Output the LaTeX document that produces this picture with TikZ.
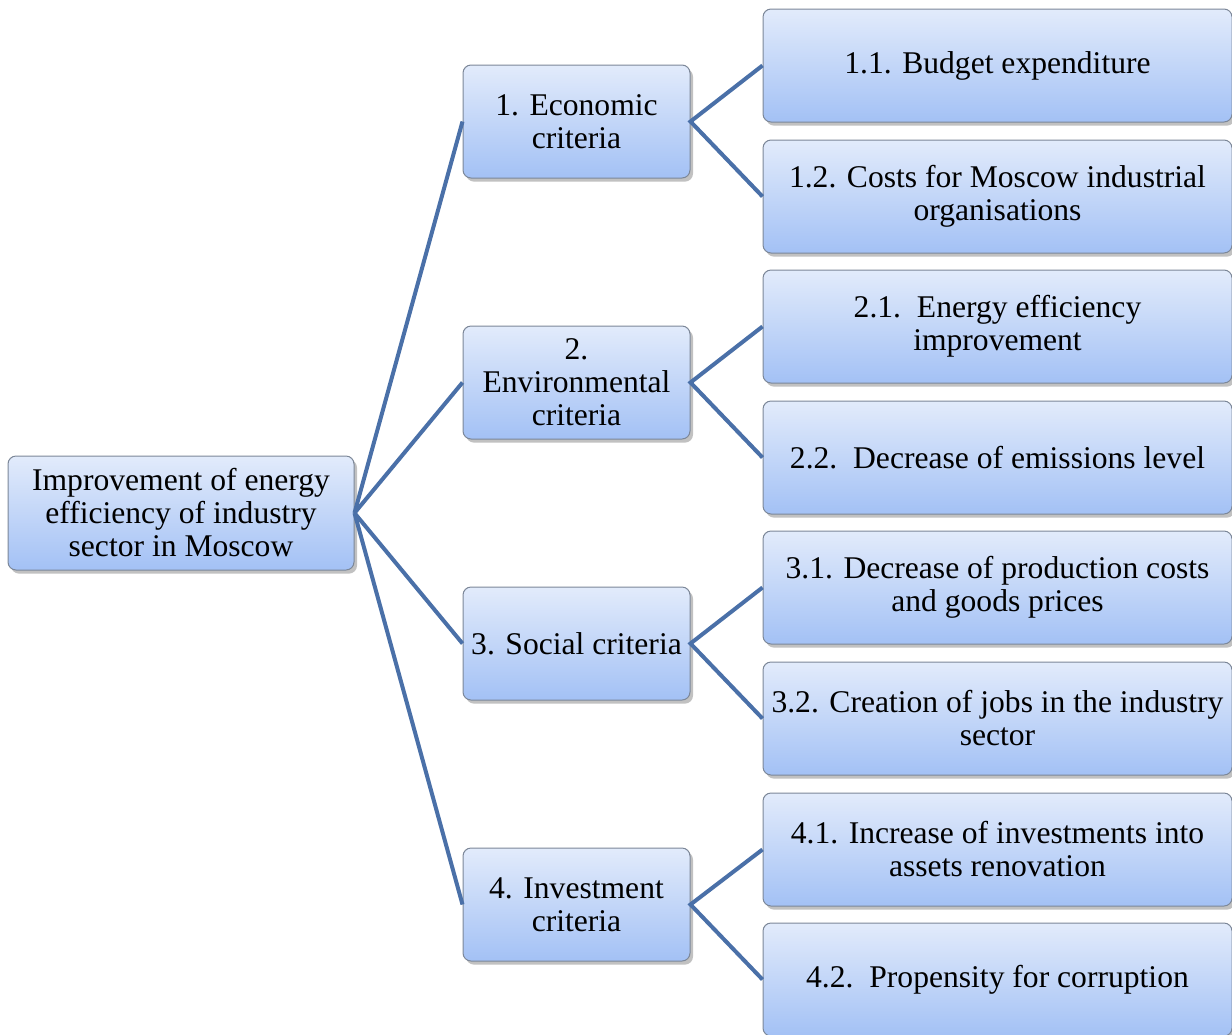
\documentclass[tikz,border=0pt]{standalone}
\usepackage{fontspec}
\setmainfont{Liberation Serif}
\usepackage{tikz}
\usetikzlibrary{shadows}
\definecolor{BoxTop}{HTML}{E2EBFB}
\definecolor{BoxBottom}{HTML}{A3C1F5}
\definecolor{BoxEdge}{HTML}{7C8798}
\definecolor{LinkBlue}{HTML}{4A70A8}

\tikzset{
    critbox/.style={draw=BoxEdge, line width=0.5pt, rounded corners=4pt,
        top color=BoxTop, bottom color=BoxBottom, align=center,
        inner sep=1pt, font=\fontsize{15.8}{16.5}\selectfont,
        drop shadow={shadow xshift=1.5pt, shadow yshift=-1.8pt, opacity=0.35, fill=black!70}},
    rootbox/.style={critbox, minimum width=173pt, minimum height=57pt},
    midbox/.style={critbox, minimum width=113.5pt, minimum height=56.5pt},
    subbox/.style={critbox, minimum width=234.5pt, minimum height=56.5pt},
    link/.style={draw=LinkBlue, line width=2pt}
}

\begin{document}
\begin{tikzpicture}[x=0.5pt, y=-0.5pt]
    \useasboundingbox (0,0) rectangle (1232,1034);

    % Main goal
    \node[rootbox] (goal) at (181,513) {Improvement of energy\\efficiency of industry\\sector in Moscow};

    % Criteria groups
    \node[midbox] (econ) at (576.5,121.5) {1. Economic\\criteria};
    \node[midbox] (envi) at (576.5,382.5) {2.\\Environmental\\criteria};
    \node[midbox] (soc)  at (576.5,643.5) {3. Social criteria};
    \node[midbox] (inv)  at (576.5,904.5) {4. Investment\\criteria};

    % Sub-criteria
    \node[subbox] (econA) at (997.5,65.5)  {1.1. Budget expenditure};
    \node[subbox] (econB) at (997.5,196.5) {1.2. Costs for Moscow industrial\\organisations};
    \node[subbox] (enviA) at (997.5,326.5) {2.1.\ \ Energy efficiency\\improvement};
    \node[subbox] (enviB) at (997.5,457.5) {2.2.\ \ Decrease of emissions level};
    \node[subbox] (socA)  at (997.5,587.5) {3.1. Decrease of production costs\\and goods prices};
    \node[subbox] (socB)  at (997.5,718.5) {3.2. Creation of jobs in the industry\\sector};
    \node[subbox] (invA)  at (997.5,849.5) {4.1. Increase of investments into\\assets renovation};
    \node[subbox] (invB)  at (997.5,979.5) {4.2.\ \ Propensity for corruption};

    % Links from the goal to the groups
    \path[link] (goal.east) -- (econ.west);
    \path[link] (goal.east) -- (envi.west);
    \path[link] (goal.east) -- (soc.west);
    \path[link] (goal.east) -- (inv.west);

    % Links from the groups to the sub-criteria
    \path[link] (econA.west) -- (econ.east) -- (econB.west);
    \path[link] (enviA.west) -- (envi.east) -- (enviB.west);
    \path[link] (socA.west) -- (soc.east) -- (socB.west);
    \path[link] (invA.west) -- (inv.east) -- (invB.west);
\end{tikzpicture}
\end{document}
